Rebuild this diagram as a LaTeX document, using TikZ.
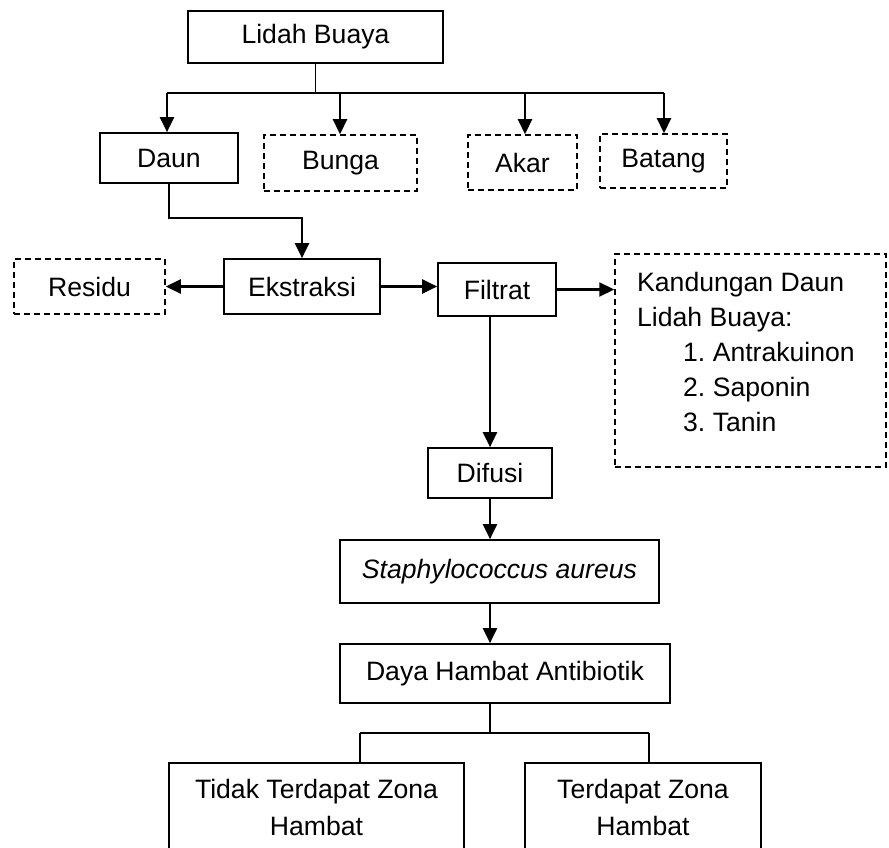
\documentclass[tikz,border=0pt]{standalone}
\usepackage{fontspec}
\setmainfont{Liberation Sans}
\usetikzlibrary{arrows.meta,calc}
\begin{document}
\begin{tikzpicture}[x=1pt,y=-1pt,
  box/.style={draw,line width=1.7pt,inner sep=0pt,align=center,font=\fontsize{26.6}{37}\selectfont},
  dbox/.style={box,dash pattern=on 6pt off 4pt,line width=1.5pt},
  arr/.style={line width=2.2pt,-{Triangle[length=15pt,width=14pt]}},
  ln/.style={line width=1.8pt}]
\useasboundingbox (0,0) rectangle (889,848);
\clip (0,0) rectangle (889,848);
\fill[white] (0,0) rectangle (889,848);
% nodes
\node[box,minimum width=255pt,minimum height=52pt] (lidah) at (315.5,37) {Lidah Buaya};
\node[box,minimum width=138pt,minimum height=50pt] (daun) at (169,158) {Daun};
\node[dbox,minimum width=153pt,minimum height=56pt] (bunga) at (340.5,163) {Bunga};
\node[dbox,minimum width=109pt,minimum height=55pt] (akar) at (522.5,162.5) {Akar};
\node[dbox,minimum width=127pt,minimum height=54pt] (batang) at (663.5,161) {Batang};
\node[dbox,minimum width=151pt,minimum height=55pt] (residu) at (89.5,286.5) {Residu};
\node[box,minimum width=156pt,minimum height=55pt] (ekstraksi) at (302,286.5) {Ekstraksi};
\node[box,minimum width=118pt,minimum height=53pt] (filtrat) at (497,289.5) {Filtrat};
\node[dbox,minimum width=271pt,minimum height=213pt] (kand) at (750.5,360.5) {};
\node[anchor=north west,inner sep=0pt,align=left,font=\fontsize{26.6}{35}\selectfont\frenchspacing] (kandtext) at (637,272)
  {Kandungan Daun\\Lidah Buaya:\\\hspace*{46pt}1. Antrakuinon\\\hspace*{46pt}2. Saponin\\\hspace*{46pt}3. Tanin};
\node[box,minimum width=124pt,minimum height=50pt] (difusi) at (490,473) {Difusi};
\node[box,minimum width=319pt,minimum height=63pt] (staph) at (499.5,571.5) {\itshape Staphylococcus aureus};
\node[box,minimum width=330pt,minimum height=59pt] (daya) at (505,673.5) {Daya Hambat Antibiotik};
\node[box,minimum width=295pt,minimum height=88pt] (tidak) at (316.5,807) {Tidak Terdapat Zona\\Hambat};
\node[box,minimum width=236pt,minimum height=88pt] (terdapat) at (643,807) {Terdapat Zona\\Hambat};
% connectors
\coordinate (hy) at (0,93);
\coordinate (h1) at (167,93);
\coordinate (h2) at (340,93);
\coordinate (h3) at (525,93);
\coordinate (h4) at (664,93);
\draw[ln] (lidah.south) -- (lidah.south |- hy);
\draw[ln,line width=2.2pt] (h1) -- (h4);
\draw[arr] (h1) -- (h1 |- daun.north);
\draw[arr] (h2) -- (h2 |- bunga.north);
\draw[arr] (h3) -- (h3 |- akar.north);
\draw[arr] (h4) -- (h4 |- batang.north);
\coordinate (dy) at (0,218);
\draw[arr] (daun.south) -- (daun.south |- dy) -| (ekstraksi.north);
\draw[arr] (ekstraksi.west) -- (residu.east);
\draw[arr] (ekstraksi.east) -- (ekstraksi.east -| filtrat.west);
\draw[arr] (filtrat.east) -- (filtrat.east -| kand.west);
\draw[arr] (difusi.north |- filtrat.south) -- (difusi.north);
\draw[arr] (difusi.south) -- (difusi.south |- staph.north);
\draw[arr] (difusi.south |- staph.south) -- (difusi.south |- daya.north);
\coordinate (sy) at (0,733);
\coordinate (s1) at (360,733);
\coordinate (s2) at (649,733);
\draw[ln] (difusi.south |- daya.south) -- (difusi.south |- sy);
\draw[ln] (s1) -- (s2);
\draw[ln] (s1) -- (s1 |- tidak.north);
\draw[ln] (s2) -- (s2 |- terdapat.north);
\end{tikzpicture}
\end{document}
